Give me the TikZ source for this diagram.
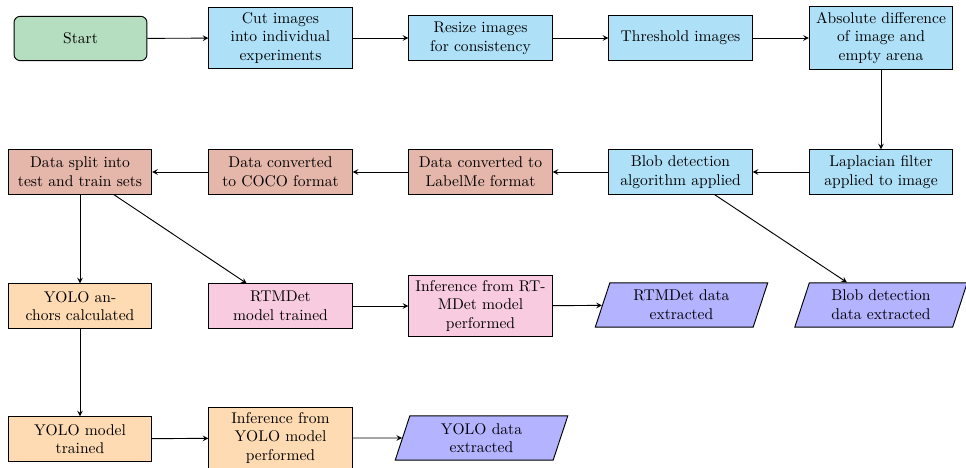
\documentclass[tikz,border=0pt]{standalone}
\usetikzlibrary{shapes.geometric,arrows}

\definecolor{startgreen}{RGB}{181,222,193}
\definecolor{procblue}{RGB}{174,224,248}
\definecolor{convred}{RGB}{229,182,170}
\definecolor{rtmpink}{RGB}{248,203,225}
\definecolor{yoloorange}{RGB}{254,219,179}
\definecolor{iopurple}{RGB}{179,179,255}

\tikzset{
  startstop/.style={rectangle, rounded corners, minimum width=3cm, minimum height=1cm,
    align=center, draw=black, semithick, fill=startgreen},
  procbox/.style={rectangle, minimum width=3cm, minimum height=1cm, text width=3cm,
    align=center, draw=black, semithick},
  prepbox/.style={procbox, fill=procblue},
  convbox/.style={procbox, fill=convred},
  rtmbox/.style={procbox, fill=rtmpink},
  yolobox/.style={procbox, fill=yoloorange},
  iobox/.style={trapezium, trapezium left angle=70, trapezium right angle=110,
    minimum width=3cm, minimum height=1cm, text width=3cm, align=center,
    trapezium stretches body, draw=black, semithick, fill=iopurple},
  flow/.style={semithick, -stealth},
}

\begin{document}
\begin{tikzpicture}[x=0.2257mm, y=-0.2257mm]
  \useasboundingbox (0,0) rectangle (966,468);

  % first row: image preparation
  \node[startstop] (start) at (80.5,38.5) {Start};
  \node[prepbox] (cut) at (280.5,38) {Cut images\\into individual\\experiments};
  \node[prepbox] (resize) at (480.5,38) {Resize images\\for consistency};
  \node[prepbox] (thresh) at (680.5,38) {Threshold images};
  \node[prepbox] (absdiff) at (881,38) {Absolute difference\\of image and\\empty arena};

  % second row: detection and data conversion
  \node[prepbox] (laplace) at (881,172) {Laplacian filter\\applied to image};
  \node[prepbox] (blob) at (680.5,172) {Blob detection\\algorithm applied};
  \node[convbox] (labelme) at (480.5,172) {Data converted to\\LabelMe format};
  \node[convbox] (coco) at (280.5,172) {Data converted\\to COCO format};
  \node[convbox] (split) at (80,172) {Data split into\\test and train sets};

  % third row: RTMDet branch and blob output
  \node[yolobox] (anchors) at (80,306) {YOLO an-\\chors calculated};
  \node[rtmbox] (rtmtrain) at (280.5,306) {RTMDet\\model trained};
  \node[rtmbox] (rtminfer) at (480.5,306) {Inference from RT-\\MDet model\\performed};
  \node[iobox] (rtmdata) at (681.5,305) {RTMDet data\\extracted};
  \node[iobox] (blobdata) at (881,305) {Blob detection\\data extracted};

  % fourth row: YOLO branch
  \node[yolobox] (yolotrain) at (80,439) {YOLO model\\trained};
  \node[yolobox] (yoloinfer) at (280.5,438) {Inference from\\YOLO model\\performed};
  \node[iobox] (yolodata) at (481.5,438) {YOLO data\\extracted};

  % connectors
  \draw[flow] (start) -- (cut);
  \draw[flow] (cut) -- (resize);
  \draw[flow] (resize) -- (thresh);
  \draw[flow] (thresh) -- (absdiff);
  \draw[flow] (absdiff) -- (laplace);
  \draw[flow] (laplace) -- (blob);
  \draw[flow] (blob) -- (labelme);
  \draw[flow] (labelme) -- (coco);
  \draw[flow] (coco) -- (split);
  \draw[flow] (blob) -- (blobdata);
  \draw[flow] (split) -- (anchors);
  \draw[flow] (split) -- (rtmtrain);
  \draw[flow] (rtmtrain) -- (rtminfer);
  \draw[flow] (rtminfer) -- (rtmdata);
  \draw[flow] (anchors) -- (yolotrain);
  \draw[flow] (yolotrain) -- (yoloinfer);
  \draw[flow] (yoloinfer) -- (yolodata);
\end{tikzpicture}
\end{document}
